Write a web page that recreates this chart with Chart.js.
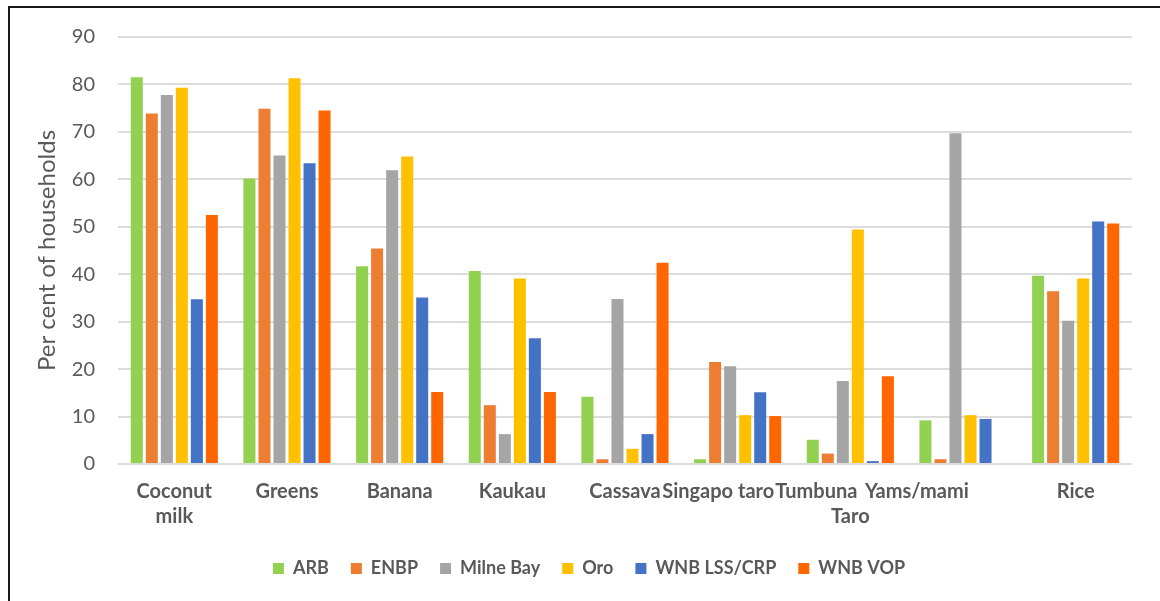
<!DOCTYPE html>
<html>
<head>
<meta charset="utf-8">
<title>Per cent of households</title>
<script src="https://cdn.jsdelivr.net/npm/chart.js@4.4.1/dist/chart.umd.min.js"></script>
<style>
  html, body { margin: 0; padding: 0; background: #ffffff; overflow: hidden; }
  #wrap { position: relative; width: 1160px; height: 601px; }
  canvas { display: block; }
</style>
</head>
<body>
<div id="wrap"><canvas id="chart" width="1160" height="601"></canvas></div>
<script>
// Food categories (multi-line labels are given as arrays)
const categories = [["Coconut", "milk"], "Greens", "Banana", "Kaukau", "Cassava", "Singapo taro", ["Tumbuna", "Taro"], "Yams/mami", "Rice"];

// Per cent of households, by region
const arb      = [81.5, 60.2, 41.7, 40.7, 14.2,  1.0,  5.1,  9.2, 39.7];
const enbp     = [73.9, 74.9, 45.4, 12.4,  1.0, 21.5,  2.2,  1.0, 36.4];
const milneBay = [77.8, 65.0, 61.9,  6.3, 34.8, 20.6, 17.5, 69.7, 30.2];
const oro      = [79.3, 81.3, 64.8, 39.1,  3.2, 10.3, 49.4, 10.3, 39.1];
const wnbLss   = [34.7, 63.4, 35.1, 26.5,  6.3, 15.1,  0.6,  9.5, 51.1];
const wnbVop   = [52.5, 74.5, 15.2, 15.2, 42.4, 10.1, 18.5,  0.0, 50.7];

const seriesNames = ["ARB", "ENBP", "Milne Bay", "Oro", "WNB LSS/CRP", "WNB VOP"];
const yTickValues = [0, 10, 20, 30, 40, 50, 60, 70, 80, 90];

const seriesColors = ["#92D050", "#ED7D31", "#A5A5A5", "#FFC000", "#4472C4", "#FF6600"];
const seriesData = [arb, enbp, milneBay, oro, wnbLss, wnbVop];

const FONT = "Lato, 'Open Sans', 'DejaVu Sans', sans-serif";
const TEXT = "#595959";
const X_FONT = { family: FONT, size: 20, weight: "bold", lineHeight: 1.25 };

// The crowded middle labels sit a little left of their category centre
// (pixels, per line); trailing spaces push the centred text across.
const labelNudge = { 5: [-20], 6: [-33, 0], 7: [-46] };

const measureCtx = document.createElement("canvas").getContext("2d");
function nudged(text, shift) {
  if (!shift) return text;
  measureCtx.font = "bold " + X_FONT.size + "px " + FONT;
  const space = measureCtx.measureText(" ").width;
  const n = Math.max(0, Math.round(-2 * shift / space));
  return text + " ".repeat(n);
}
function tickLabel(index) {
  const lbl = categories[index];
  const shifts = labelNudge[index];
  if (!shifts) return lbl;
  if (Array.isArray(lbl)) return lbl.map((line, k) => nudged(line, shifts[k] || 0));
  return nudged(lbl, shifts[0]);
}

// White background and the outer frame of the chart object
const framePlugin = {
  id: "frame",
  beforeDraw(chart) {
    const ctx = chart.ctx;
    ctx.save();
    ctx.fillStyle = "#ffffff";
    ctx.fillRect(0, 0, chart.width, chart.height);
    ctx.strokeStyle = "#1a1a1a";
    ctx.lineWidth = 2;
    ctx.beginPath();
    ctx.moveTo(9, chart.height);
    ctx.lineTo(9, 7);
    ctx.lineTo(chart.width, 7);
    ctx.stroke();
    ctx.restore();
  }
};

function build() {
  Chart.defaults.font.family = FONT;
  Chart.defaults.color = TEXT;

  new Chart(document.getElementById("chart"), {
    type: "bar",
    data: {
      labels: categories,
      datasets: seriesNames.map((name, i) => ({
        label: name,
        data: seriesData[i],
        backgroundColor: seriesColors[i],
        borderWidth: 0,
        categoryPercentage: 0.8,
        barPercentage: 0.8
      }))
    },
    options: {
      responsive: false,
      animation: false,
      devicePixelRatio: 1,
      layout: { padding: { left: 18, right: 0, top: 37, bottom: 13.5 } },
      plugins: {
        legend: {
          position: "bottom",
          align: "center",
          labels: {
            boxWidth: 11,
            boxHeight: 11,
            padding: 22,
            color: TEXT,
            font: { family: FONT, size: 18, weight: "bold" }
          }
        },
        tooltip: { enabled: false }
      },
      scales: {
        x: {
          grid: { display: false, drawTicks: false },
          border: { display: false },
          ticks: {
            autoSkip: false,
            maxRotation: 0,
            minRotation: 0,
            padding: 15.5,
            color: TEXT,
            font: X_FONT,
            callback: (value, index) => tickLabel(index)
          },
          afterFit(scale) { scale.height = 73.5; }
        },
        y: {
          min: 0,
          max: 90,
          grid: { color: "#dcdcdc", lineWidth: 2, drawTicks: false },
          border: { display: false },
          ticks: {
            padding: 23,
            color: TEXT,
            font: { family: FONT, size: 20 }
          },
          afterBuildTicks(scale) { scale.ticks = yTickValues.map(v => ({ value: v })); },
          title: {
            display: true,
            text: "Per cent of households",
            color: TEXT,
            padding: { top: 15, bottom: 0 },
            font: { family: FONT, size: 24, lineHeight: 1.2 }
          },
          afterFit(scale) { scale.width = 100; }
        },
        yRight: {
          position: "right",
          display: true,
          grid: { display: false, drawTicks: false },
          border: { display: false },
          ticks: { display: false },
          afterFit(scale) { scale.width = 28; }
        }
      }
    },
    plugins: [framePlugin]
  });
}

const fontLoads = [
  document.fonts.load("18px Lato"),
  document.fonts.load("bold 18px Lato"),
  document.fonts.load("20px Lato")
];
Promise.all(fontLoads).catch(() => {}).then(build);
</script>
</body>
</html>
